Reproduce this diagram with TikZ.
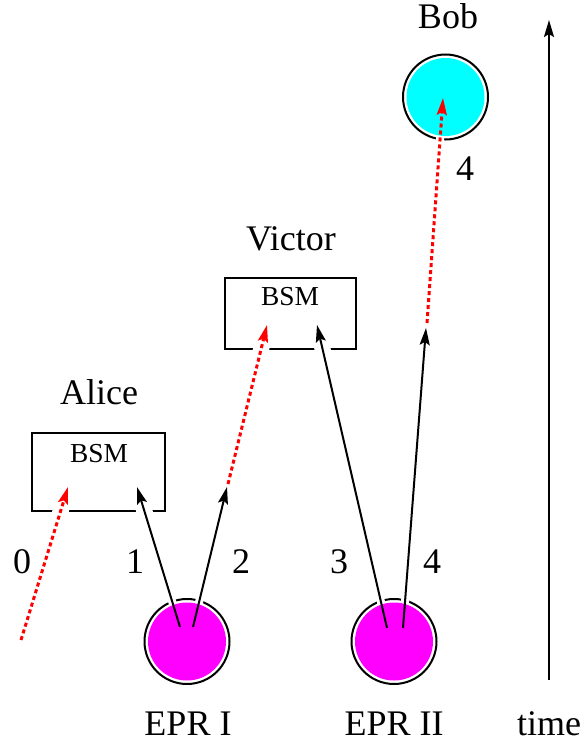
\documentclass[tikz,border=0pt]{standalone}
\usepackage{fontspec}
\setmainfont{Liberation Serif}
\usetikzlibrary{arrows.meta,calc}
\definecolor{eprpink}{RGB}{255,0,255}
\definecolor{bobcyan}{RGB}{0,255,255}
\begin{document}
\begin{tikzpicture}[
		x=0.5pt, y=-0.5pt,
		every node/.style={font=\fontsize{18}{20}\selectfont, inner sep=0pt},
		lbl/.style={anchor=base},
		bsmtxt/.style={anchor=base, font=\fontsize{13.7}{15}\selectfont},
		bsmbox/.style={draw, line width=1pt},
		epr/.style={circle, draw, line width=1pt, fill=white, minimum size=42.5pt},
		core/.style={circle, minimum size=39pt},
		arrow/.style={line width=1pt, -{Stealth[length=8.5pt, width=5pt, inset=1.5pt]}},
		photon/.style={arrow, red, line width=1.5pt, dash pattern=on 2pt off 1.5pt},
		halo/.style={draw=white, line width=4pt},
		halohead/.style={draw=white, line width=8pt}
		]
		\useasboundingbox (0,0) rectangle (584,744);
		
		% -------- Boxes --------
		\node[bsmbox, minimum width=66.5pt, minimum height=39pt] (aliceB) at (98.5,472) {};
		\node[bsmbox, minimum width=65.5pt, minimum height=35.5pt] (victorB) at (290.5,313.5) {};
		
		% -------- Sources (outline) --------
		\node[epr] (eprI) at (187,641.5) {};
		\node[epr] (eprII) at (394,641.5) {};
		\node[epr] (bob) at (445.5,97) {};
		
		% -------- Arrow ends --------
		\coordinate (a0s) at (21,640);
		\coordinate (a0e) at (68,487);
		\coordinate (a1s) at (180,627);
		\coordinate (a1e) at (137,487);
		\coordinate (a2s) at (193,627);
		\coordinate (a2e) at (227,487);
		\coordinate (r2s) at (228,484);
		\coordinate (r2e) at (267,325);
		\coordinate (a3s) at (387,628);
		\coordinate (a3e) at (317,325);
		\coordinate (a4s) at (403,628);
		\coordinate (a4e) at (426,328);
		\coordinate (r4s) at (427,323);
		\coordinate (r4e) at (443,98);
		\coordinate (t0) at (549,680);
		\coordinate (t1) at (549,20);
		
		% ---- Gaps where arrows cross ----
		\foreach \s/\e in {a0s/a0e, a1s/a1e, a2s/a2e, r2s/r2e, a3s/a3e, a4s/a4e, r4s/r4e}{
			\draw[halo] (\s) -- (\e);
			\draw[halohead] (\e) -- ($(\e)!17pt!(\s)$);
		}
		
		% -------- Sources (fill) --------
		\node[core, fill=eprpink] (eprIc) at (eprI) {};
		\node[core, fill=eprpink] (eprIIc) at (eprII) {};
		\node[core, fill=bobcyan] (bobc) at (bob) {};
		
		% ---- Photons ----
		\draw[photon] (a0s) -- (a0e);
		\draw[arrow] (a1s) -- (a1e);
		\draw[arrow] (a2s) -- (a2e);
		\draw[photon] (r2s) -- (r2e);
		\draw[arrow] (a3s) -- (a3e);
		\draw[arrow] (a4s) -- (a4e);
		\draw[photon] (r4s) -- (r4e);
		
		% ---- Time axis ----
		\draw[arrow] (t0) -- (t1);
		
		% Box texts
		\node[bsmtxt] (aliceT) at (99,462) {BSM};
		\node[bsmtxt] (victorT) at (290,305) {BSM};
		
		% Labels
		\node[lbl] (alice) at (99,404) {Alice};
		\node[lbl] (victor) at (291,250) {Victor};
		\node[lbl] (bobL) at (448,28) {Bob};
		\node[lbl] (eprIL) at (188,735) {EPR I};
		\node[lbl] (eprIIL) at (394,735) {EPR II};
		\node[lbl] (time) at (549,735) {time};
		
		% Photon numbers
		\node[lbl] (n0) at (22,573) {0};
		\node[lbl] (n1) at (135,573) {1};
		\node[lbl] (n2) at (241,573) {2};
		\node[lbl] (n3) at (339,573) {3};
		\node[lbl] (n4) at (432,573) {4};
		\node[lbl] (n4b) at (465,180) {4};
		
	\end{tikzpicture}
\end{document}
